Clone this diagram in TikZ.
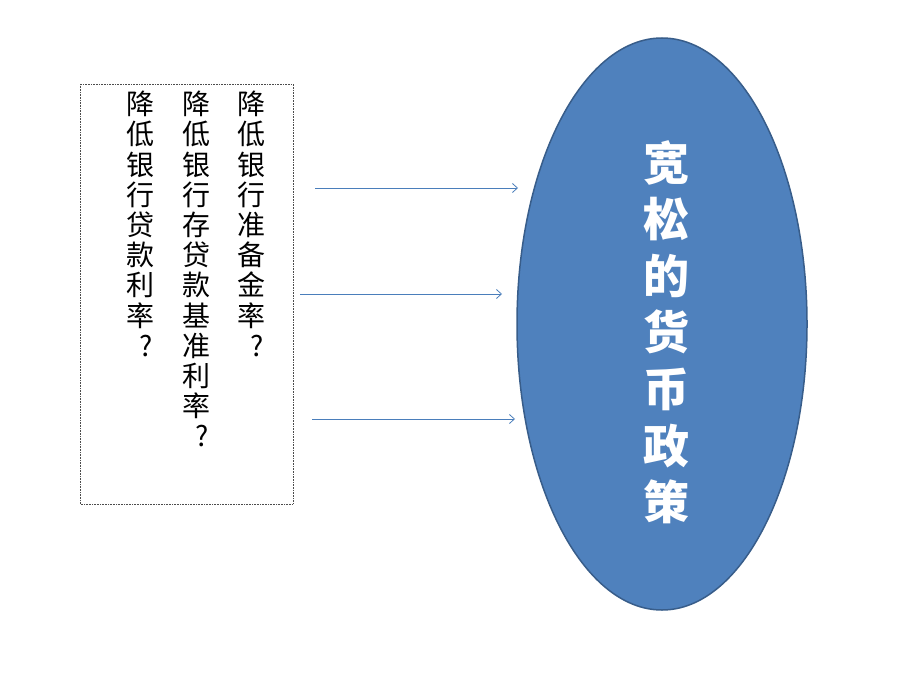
\documentclass[tikz,border=0pt]{standalone}
\usepackage{fontspec}
\newfontfamily\cjk{Noto Sans CJK SC}
\usetikzlibrary{shapes.geometric,arrows.meta}
\definecolor{policyblue}{HTML}{4F81BD}
\definecolor{policyedge}{HTML}{385D8A}
\definecolor{linkblue}{HTML}{4A7EBB}
\newcommand{\qmark}{\makebox[0.9em][r]{?}}

\begin{document}
\begin{tikzpicture}[x=1pt, y=-1pt,
        column/.style={anchor=north, inner sep=0pt, align=center,
            font=\cjk\fontsize{28}{30.2}\selectfont},
        link/.style={-{Straight Barb[length=5pt, width=9pt]}, linkblue, line width=0.8pt}]
        \useasboundingbox (0, 0) rectangle (920, 690);
        \coordinate (A1) at (315, 188);
        \coordinate (B1) at (518, 188);
        \coordinate (A2) at (300, 294);
        \coordinate (B2) at (502, 294);
        \coordinate (A3) at (312, 419);
        \coordinate (B3) at (515, 419);

        % Box of measures
        \draw[black!70, densely dotted, line width=0.6pt] (80, 84) rectangle (293, 504);

        % Measures, one column each
        \node[column] (reserve) at (251, 91) {降\\低\\银\\行\\准\\备\\金\\率\\\qmark};
        \node[column] (benchmark) at (196, 91) {降\\低\\银\\行\\存\\贷\\款\\基\\准\\利\\率\\\qmark};
        \node[column] (lending) at (140, 91) {降\\低\\银\\行\\贷\\款\\利\\率\\\qmark};

        % Policy
        \node[ellipse, draw=policyedge, line width=1.5pt, fill=policyblue,
            minimum width=290pt, minimum height=572pt, inner sep=0pt] (policy) at (662, 324) {};
        \node[anchor=north, inner sep=0pt, text=white, align=center,
            font=\cjk\bfseries\fontsize{46}{56.6}\selectfont]
            (title) at (666, 140) {宽\\松\\的\\货\\币\\政\\策};

        % Arrows
        \draw[link] (A1) -- (B1);
        \draw[link] (A2) -- (B2);
        \draw[link] (A3) -- (B3);

    \end{tikzpicture}
\end{document}
